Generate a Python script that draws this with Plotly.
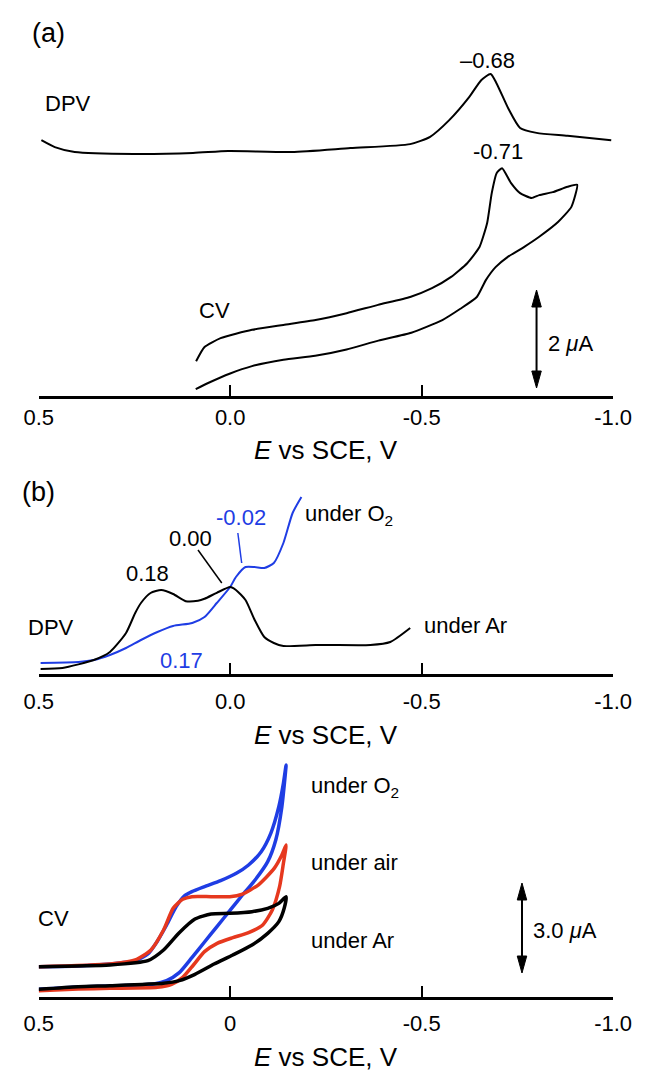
import plotly.graph_objects as go

W, H = 653, 1072
FONT = "Liberation Sans, Arial, Helvetica, sans-serif"
BLUE = "#1f3de4"
RED = "#e6381e"

# ---------------- (a) DPV and CV (potential in V vs SCE, current in µA) ----------------
dpv_a_E = [0.493, 0.458, 0.406, 0.252, 0.097, 0.005, -0.161, -0.314, -0.470, -0.522,
           -0.572, -0.624, -0.656, -0.68, -0.695, -0.728, -0.757, -0.800, -0.881, -0.995]
dpv_a_I = [5.22, 5.08, 4.98, 4.94, 4.96, 5.00, 4.98, 5.06, 5.14, 5.29,
           5.63, 6.10, 6.45, 6.57, 6.39, 5.84, 5.47, 5.37, 5.31, 5.22]

cv_a_E = [0.090, 0.059, 0.000, -0.057, -0.139, -0.222, -0.304, -0.387, -0.473, -0.554,
          -0.601, -0.644, -0.668, -0.693, -0.725, -0.767, -0.807, -0.856, -0.891, -0.906,
          -0.881, -0.842, -0.807, -0.787, -0.757, -0.733, -0.71, -0.696, -0.683, -0.671,
          -0.651, -0.619, -0.577, -0.527, -0.470, -0.386, -0.304, -0.223, -0.139, -0.057,
          0.025, 0.067, 0.089]
cv_a_I = [0.14, 0.26, 0.46, 0.61, 0.74, 0.82, 0.95, 1.13, 1.29, 1.55,
          1.78, 2.02, 2.37, 2.63, 2.84, 3.04, 3.25, 3.55, 3.86, 4.31,
          4.27, 4.16, 4.10, 4.04, 4.14, 4.35, 4.65, 4.55, 4.14, 3.53,
          3.04, 2.71, 2.43, 2.20, 2.02, 1.86, 1.69, 1.55, 1.45, 1.35,
          1.18, 1.00, 0.71]

# ---------------- (b) DPV under Ar and under O2 ----------------
dpv_ar_E = [0.495, 0.438, 0.356, 0.314, 0.272, 0.248, 0.233, 0.208, 0.18, 0.149,
            0.116, 0.084, 0.067, 0.035, 0.0, -0.015, -0.04, -0.064, -0.089, -0.114,
            -0.139, -0.223, -0.262, -0.366, -0.418, -0.47]
dpv_ar_I = [0.125, 0.15, 0.35, 0.55, 1.025, 1.525, 1.775, 2.025, 2.1, 2.0,
            1.82, 1.83, 1.88, 2.03, 2.175, 2.1, 1.85, 1.35, 0.925, 0.775,
            0.7, 0.725, 0.725, 0.725, 0.8, 1.15]

dpv_o2_E = [0.495, 0.396, 0.356, 0.314, 0.272, 0.233, 0.19, 0.149, 0.099, 0.067,
            0.035, 0.0, -0.015, -0.04, -0.064, -0.089, -0.114, -0.139, -0.163, -0.186]
dpv_o2_I = [0.275, 0.3, 0.35, 0.475, 0.65, 0.85, 1.05, 1.2, 1.275, 1.425,
            1.775, 2.175, 2.425, 2.675, 2.675, 2.65, 2.775, 3.275, 4.025, 4.425]

# ---------------- (b) CV under O2 / air / Ar (current in µA) ----------------
cv_o2_E = [0.5, 0.397, 0.314, 0.248, 0.215, 0.191, 0.166, 0.141, 0.120, 0.1,
           0.067, 0.025, -0.016, -0.048, -0.081, -0.106, -0.127, -0.139, -0.146,
           -0.135, -0.119, -0.098, -0.065, -0.032, 0.001, 0.034, 0.067, 0.1,
           0.133, 0.166, 0.199, 0.314, 0.397, 0.5]
cv_o2_I = [1.011, 1.033, 1.1, 1.211, 1.433, 1.844, 2.4, 3.011, 3.367, 3.511,
           3.678, 3.878, 4.122, 4.4, 4.844, 5.456, 6.344, 7.122, 7.733,
           6.344, 5.233, 4.511, 3.9, 3.4, 2.878, 2.356, 1.833, 1.311,
           0.811, 0.544, 0.433, 0.367, 0.333, 0.256]

cv_air_E = [0.5, 0.314, 0.248, 0.207, 0.174, 0.149, 0.124, 0.1, 0.05, 0.001,
            -0.032, -0.073, -0.115, -0.135, -0.146,
            -0.139, -0.129, -0.110, -0.085, -0.048, -0.007, 0.034, 0.067, 0.096,
            0.124, 0.153, 0.190, 0.314, 0.397, 0.5]
cv_air_I = [1.011, 1.1, 1.233, 1.567, 2.233, 2.956, 3.256, 3.344, 3.344, 3.344,
            3.433, 3.733, 4.289, 4.733, 5.067,
            4.456, 3.678, 2.9, 2.4, 2.144, 1.978, 1.789, 1.511, 1.067,
            0.656, 0.422, 0.322, 0.289, 0.267, 0.211]

cv_ar_E = [0.5, 0.314, 0.215, 0.174, 0.133, 0.092, 0.05, 0.001, -0.057, -0.098,
           -0.127, -0.146,
           -0.141, -0.127, -0.098, -0.057, -0.007, 0.042, 0.092, 0.133, 0.174,
           0.314, 0.397, 0.5]
cv_ar_I = [1.011, 1.067, 1.211, 1.567, 2.144, 2.6, 2.767, 2.789, 2.844, 2.956,
           3.122, 3.344,
           2.956, 2.511, 2.122, 1.733, 1.4, 1.1, 0.756, 0.544, 0.456,
           0.378, 0.344, 0.256]

tick_vals = [0.5, 0.0, -0.5, -1.0]
tick_text_ab = ["0.5", "0.0", "-0.5", "-1.0"]
tick_text_c = ["0.5", "0", "-0.5", "-1.0"]

# current scale bars: (panel, potential, lower end µA, length µA)
scale_bars = [("a", -0.80, 0.163, 2.0), ("c", -0.762, 0.8, 3.0)]

# ---------------- layout geometry (pixels from the top of the page) ----------------
X_LEFT, X_RIGHT = 25, 631
X_PX_PER_V = (X_RIGHT - X_LEFT) / 1.5
PANELS = {  # name: (top px, axis px, px per µA, axis ids)
    "a": (40, 396, 49.0, ("x", "y")),
    "b": (480, 674, 40.0, ("x2", "y2")),
    "c": (740, 997, 30.0, ("x3", "y3")),
}
TICK_SIZE, LABEL_SIZE, TITLE_SIZE = 22, 22, 26


def yp(px):
    return 1 - px / H


def x_axis(anchor, ticktext, standoff):
    return dict(
        domain=[X_LEFT / W, X_RIGHT / W], range=[0.5, -1.0], anchor=anchor,
        showline=True, linewidth=2.5, linecolor="black",
        ticks="inside", ticklen=11, tickwidth=2, tickcolor="black",
        tickmode="array", tickvals=tick_vals, ticktext=ticktext,
        tickfont=dict(family=FONT, size=TICK_SIZE, color="black"),
        ticklabelstandoff=standoff,
        showgrid=False, zeroline=False, fixedrange=True,
    )


def y_axis(panel):
    top, axis, scale, _ = PANELS[panel]
    return dict(domain=[yp(axis), yp(top)], range=[0, (axis - top) / scale],
                visible=False, fixedrange=True)


fig = go.Figure()


def line(x, y, xa, ya, color, width, smoothing=0.6):
    fig.add_trace(go.Scatter(
        x=x, y=y, xaxis=xa, yaxis=ya, mode="lines", showlegend=False, hoverinfo="skip",
        line=dict(color=color, width=width, shape="spline", smoothing=smoothing),
    ))


line(dpv_a_E, dpv_a_I, "x", "y", "black", 2)
line(cv_a_E, cv_a_I, "x", "y", "black", 2, smoothing=0.5)
line(dpv_o2_E, dpv_o2_I, "x2", "y2", BLUE, 2)
line(dpv_ar_E, dpv_ar_I, "x2", "y2", "black", 2)
line(cv_o2_E, cv_o2_I, "x3", "y3", BLUE, 3.5)
line(cv_air_E, cv_air_I, "x3", "y3", RED, 3.5)
line(cv_ar_E, cv_ar_I, "x3", "y3", "black", 3.5)

ann = []


def text(x, y, s, xref, yref, size=LABEL_SIZE, color="black", xanchor="center"):
    ann.append(dict(x=x, y=y, xref=xref, yref=yref, text=s, showarrow=False,
                    xanchor=xanchor, yanchor="middle",
                    font=dict(family=FONT, size=size, color=color)))


# panel labels and axis titles
text(35 / W, yp(33), "(a)", "paper", "paper", size=27)
text(25 / W, yp(492), "(b)", "paper", "paper", size=27)
for px in (450, 735, 1057):
    text(0.5, yp(px), "<i>E</i> vs SCE, V", "x domain", "paper", size=TITLE_SIZE)

# (a)
text(-0.671, 6.84, "\u20130.68", "x", "y")
text(-0.70, 5.0, "-0.71", "x", "y")
text(56 / W, yp(103), "DPV", "paper", "paper")
text(0.042, 1.755, "CV", "x", "y")
text(-0.824, 1.08, "2 <i>\u03bc</i>A", "x", "y", xanchor="left")

# (b) DPV
text(-0.19, 3.975, "under O<sub>2</sub>", "x2", "y2", xanchor="left")
text(-0.50, 1.225, "under Ar", "x2", "y2", xanchor="left")
text(-0.027, 3.925, "-0.02", "x2", "y2", color=BLUE)
text(0.104, 3.40, "0.00", "x2", "y2")
text(0.215, 2.525, "0.18", "x2", "y2")
text(0.126, 0.35, "0.17", "x2", "y2", color=BLUE)
text(38 / W, yp(627), "DPV", "paper", "paper")

# (b) CV
text(-0.205, 7.0, "under O<sub>2</sub>", "x3", "y3", xanchor="left")
text(-0.205, 4.5, "under air", "x3", "y3", xanchor="left")
text(-0.205, 1.9, "under Ar", "x3", "y3", xanchor="left")
text(22 / W, yp(918), "CV", "paper", "paper", xanchor="left")
text(-0.785, 2.233, "3.0 <i>\u03bc</i>A", "x3", "y3", xanchor="left")

# leader lines to the (b) DPV peak labels
shapes = [
    dict(type="line", xref="x2", yref="y2", x0=0.084, y0=3.10, x1=0.022, y1=2.275,
         line=dict(color="black", width=1.5)),
    dict(type="line", xref="x2", yref="y2", x0=-0.02, y0=3.525, x1=-0.03, y1=2.775,
         line=dict(color=BLUE, width=1.5)),
]

# double-headed current scale bars: shaft plus two filled heads
HEAD_HALF_W_PX, HEAD_LEN_PX = 5, 17
for panel, xv, y0, length in scale_bars:
    _, _, ppu, (xa, ya) = PANELS[panel]
    y1 = y0 + length
    hw = HEAD_HALF_W_PX / X_PX_PER_V
    hl = HEAD_LEN_PX / ppu
    shapes.append(dict(type="line", xref=xa, yref=ya, x0=xv, x1=xv,
                       y0=y0 + hl * 0.5, y1=y1 - hl * 0.5,
                       line=dict(color="black", width=2)))
    for tip, base in ((y1, y1 - hl), (y0, y0 + hl)):
        shapes.append(dict(
            type="path", xref=xa, yref=ya,
            path=f"M {xv - hw},{base} L {xv},{tip} L {xv + hw},{base} Z",
            fillcolor="black", line=dict(color="black", width=1)))

fig.update_layout(
    width=W, height=H, margin=dict(l=0, r=0, t=0, b=0),
    paper_bgcolor="white", plot_bgcolor="white",
    font=dict(family=FONT, color="black"),
    xaxis=x_axis("y", tick_text_ab, 0),
    xaxis2=x_axis("y2", tick_text_ab, 6),
    xaxis3=x_axis("y3", tick_text_c, 5),
    yaxis=y_axis("a"), yaxis2=y_axis("b"), yaxis3=y_axis("c"),
    annotations=ann, shapes=shapes, showlegend=False,
)

fig.write_html("out.html")
